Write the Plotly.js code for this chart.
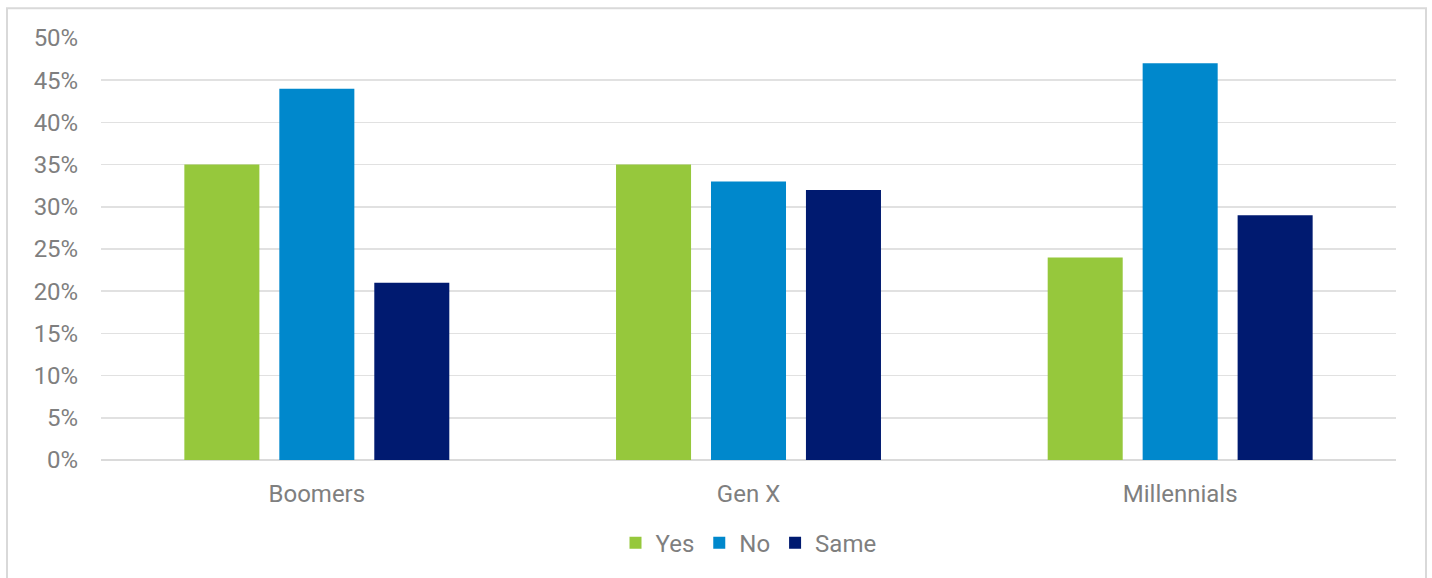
<!DOCTYPE html>
<html><head><meta charset="utf-8">
<script src="https://cdn.plot.ly/plotly-3.0.1.min.js"></script>
<style>html,body{margin:0;padding:0;background:#fff}#chart{width:1432px;height:578px}</style>
</head><body><div id="chart"></div>
<script>
const categories = ["Boomers", "Gen X", "Millennials"];
const yesValues = [0.35, 0.35, 0.24];
const noValues = [0.44, 0.33, 0.47];
const sameValues = [0.21, 0.32, 0.29];
const seriesNames = ["Yes", "No", "Same"];
const seriesColors = ["#96c83c", "#0088cc", "#001a70"];

const allValues = [yesValues, noValues, sameValues];
const traces = allValues.map((v, i) => ({
  type: "bar", x: categories, y: v, name: seriesNames[i],
  marker: {color: seriesColors[i]}, hoverinfo: "skip"
}));

const L = 101, R = 36, T = 38, B = 114, W = 1432, H = 578;
const pw = W - L - R, ph = H - T - B;
const font = {family: "Roboto, 'Liberation Sans', sans-serif", color: "#7f7f7f", size: 24};
const pyOf = y => 1 - (y - T) / ph;

Plotly.newPlot("chart", traces, {
  width: W, height: H,
  margin: {l: L, r: R, t: T, b: B, pad: 0},
  paper_bgcolor: "#fff", plot_bgcolor: "#fff",
  font: font,
  barmode: "group", bargap: 0.34, bargroupgap: 0.21,
  xaxis: {showgrid: false, zeroline: false, showline: false, ticks: "outside", ticklen: 12,
          tickcolor: "rgba(0,0,0,0)", tickfont: font, fixedrange: true},
  yaxis: {range: [0, 0.5], dtick: 0.05, tickformat: ".0%", gridcolor: "#e1e1e1", gridwidth: 1.5,
          zeroline: true, zerolinecolor: "#dadada", zerolinewidth: 1.5, showline: false,
          ticks: "outside", ticklen: 17, tickcolor: "rgba(0,0,0,0)", tickfont: font, fixedrange: true},
  legend: {orientation: "h", x: 0.5, xanchor: "center", y: pyOf(548), yanchor: "middle",
           font: font, itemwidth: 30, traceorder: "normal"},
  shapes: [{type: "rect", xref: "paper", yref: "paper",
            x0: (7 - L) / pw, x1: (1426 - L) / pw, y0: pyOf(590), y1: pyOf(8),
            line: {color: "#d9d9d9", width: 2}, fillcolor: "rgba(0,0,0,0)", layer: "below"}]
}, {displayModeBar: false, staticPlot: true});
</script></body></html>
